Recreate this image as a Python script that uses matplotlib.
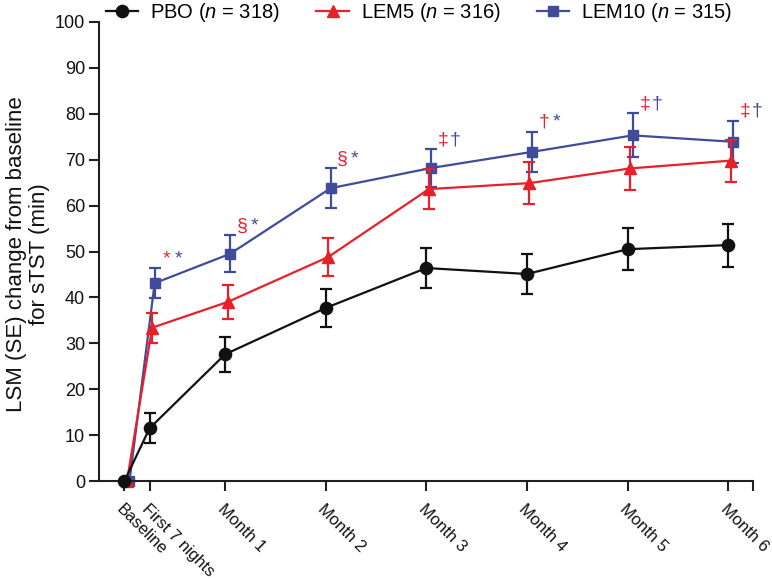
import matplotlib
matplotlib.use("Agg")
import matplotlib.pyplot as plt
from matplotlib.lines import Line2D
import numpy as np

plt.rcParams['font.family'] = ['Liberation Sans', 'DejaVu Sans']
plt.rcParams['mathtext.fontset'] = 'custom'
plt.rcParams['mathtext.it'] = 'Liberation Sans:italic'
plt.rcParams['mathtext.rm'] = 'Liberation Sans'

# ---- data ----
time_labels = ['Baseline', 'First 7 nights', 'Month 1', 'Month 2', 'Month 3',
               'Month 4', 'Month 5', 'Month 6']
time_pos = [0, 0.25, 1, 2, 3, 4, 5, 6]

pbo = [0, 11.5, 27.6, 37.7, 46.4, 45.1, 50.5, 51.4]
pbo_se = [0, 3.3, 3.8, 4.2, 4.3, 4.3, 4.6, 4.7]
lem5 = [0, 33.4, 39.0, 48.8, 63.6, 64.9, 68.1, 69.8]
lem5_se = [0, 3.3, 3.8, 4.2, 4.3, 4.5, 4.6, 4.6]
lem10 = [0, 43.1, 49.5, 63.8, 68.2, 71.7, 75.3, 73.9]
lem10_se = [0, 3.3, 4.0, 4.3, 4.1, 4.4, 4.8, 4.6]

sig_lem5 = ['', '*', '§', '§', '‡', '†', '‡', '‡']
sig_lem10 = ['', '*', '*', '*', '†', '*', '†', '†']

series_names = ['PBO ($n$ = 318)', 'LEM5 ($n$ = 316)', 'LEM10 ($n$ = 315)']

# ---- style ----
c_black = '#111111'
c_red = '#e8202a'
c_blue = '#3f4c9c'
spine_c = '#231f20'

fig = plt.figure(figsize=(7.72, 5.8), dpi=100)
ax = fig.add_axes([99/772, 1 - 481/580, (753 - 99)/772, (481 - 22)/580])

x = np.array(time_pos, dtype=float)
specs = [
    (lem10, lem10_se, c_blue, 's', 7.8, 0.05, 2),
    (lem5, lem5_se, c_red, '^', 8.5, 0.025, 3),
    (pbo, pbo_se, c_black, 'o', 8.8, 0.0, 4),
]
for vals, se, col, mk, ms, off, z in specs:
    xs = x + off
    vals = np.array(vals, dtype=float)
    se = np.array(se, dtype=float)
    ax.plot(xs, vals, color=col, lw=1.6, marker=mk, ms=ms, zorder=z, clip_on=False)
    ax.errorbar(xs[1:], vals[1:], yerr=se[1:], fmt='none', ecolor=col,
                elinewidth=1.6, capsize=4, capthick=1.6, zorder=z, clip_on=False)

# significance symbols
for i in range(1, len(time_pos)):
    top = lem10[i] + lem10_se[i]
    xx = time_pos[i] + 0.05
    ax.annotate(sig_lem5[i], xy=(xx, top), xytext=(12, 5), textcoords='offset pixels',
                ha='center', va='baseline', color=c_red, fontsize=14)
    ax.annotate(sig_lem10[i], xy=(xx, top), xytext=(24, 5), textcoords='offset pixels',
                ha='center', va='baseline', color=c_blue, fontsize=14)

ax.set_xlim(-0.253, 6.246)
ax.set_ylim(0, 100)
ax.set_yticks(np.arange(0, 101, 10))
ax.set_xticks(time_pos)
ax.set_xticklabels(time_labels, rotation=-45, ha='left', va='top',
                   rotation_mode='anchor', fontsize=12)
ax.set_xticks([6.246], minor=True)

for s in ['top', 'right']:
    ax.spines[s].set_visible(False)
for s in ['left', 'bottom']:
    ax.spines[s].set_color(spine_c)
    ax.spines[s].set_linewidth(1.5)

ax.tick_params(axis='both', which='both', direction='out', length=7, width=1.5,
               color=spine_c, labelcolor='#111111')
ax.tick_params(axis='y', pad=3, labelsize=13)
ax.tick_params(axis='x', pad=8)

fig.text(28/772, 1 - 254/580, 'LSM (SE) change from baseline\nfor sTST (min)', rotation=90,
         ha='center', va='center', fontsize=16, color='#111111', linespacing=1.1)

handles = [
    Line2D([], [], color=c_black, lw=1.6, marker='o', ms=8.8),
    Line2D([], [], color=c_red, lw=1.6, marker='^', ms=8.5),
    Line2D([], [], color=c_blue, lw=1.6, marker='s', ms=7.8),
]
fig.legend(handles, series_names, loc='upper left',
           bbox_to_anchor=(106/772, 1 - 1/580), ncol=3, frameon=False,
           fontsize=14.5, handlelength=1.6, handletextpad=0.6, columnspacing=1.8,
           borderpad=0, borderaxespad=0)

fig.savefig('out.png', dpi=100)
